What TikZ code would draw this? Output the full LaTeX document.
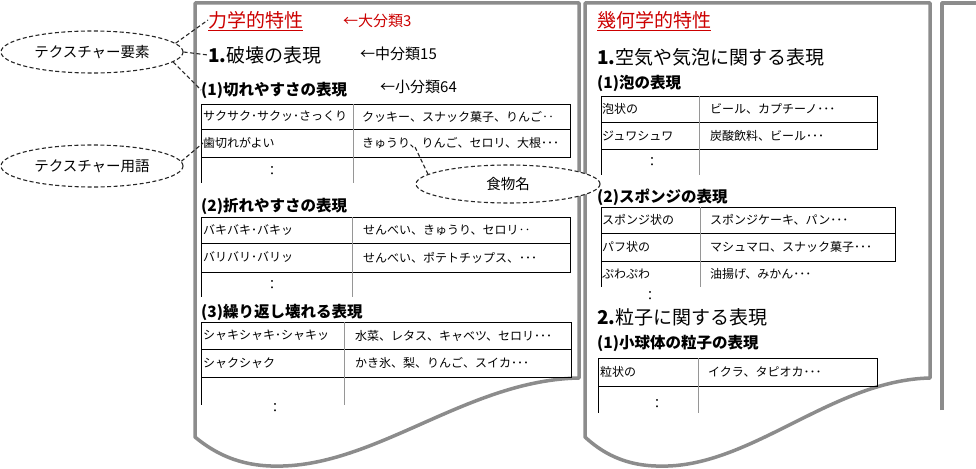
\documentclass[tikz,border=0pt]{standalone}
\usepackage{fontspec}
\setmainfont{Noto Sans CJK JP}
\usetikzlibrary{shapes.geometric}
\definecolor{pageborder}{RGB}{140,140,140}
\definecolor{headred}{RGB}{204,0,0}
\definecolor{divgray}{RGB}{150,150,150}
\tikzset{
  pagebox/.style={draw=pageborder, line width=3.5pt, line join=round},
  callout/.style={ellipse, draw=black!85, dash pattern=on 4pt off 2.5pt, line width=1.1pt, fill=white, inner sep=0pt, font=\fontsize{14.5}{15}\selectfont},
  linkline/.style={draw=black!85, line width=1.1pt, dash pattern=on 4pt off 2.5pt},
  bigred/.style={anchor=west, inner sep=0pt, text=headred, font=\fontsize{19}{19}\selectfont},
  redunder/.style={draw=headred, line width=1.2pt},
  midhead/.style={anchor=west, inner sep=0pt, font=\fontsize{19}{19}\selectfont},
  subhead/.style={anchor=west, inner sep=0pt, font=\fontsize{15.5}{16}\selectfont\bfseries},
  arrownote/.style={anchor=west, inner sep=0pt, font=\fontsize{15}{15}\selectfont},
  celltxt/.style={anchor=west, inner sep=0pt, font=\fontsize{12}{12}\selectfont},
  dotsmark/.style={inner sep=0pt, font=\fontsize{13}{13}\selectfont},
  tabline/.style={draw=black, line width=0.9pt},
  tabdiv/.style={draw=divgray, line width=0.9pt},
}
\begin{document}
\begin{tikzpicture}[x=1pt,y=-1pt]
\useasboundingbox (0,0) rectangle (976,468);
\clip (0,0) rectangle (976,468);
\fill[white] (0,0) rectangle (976,468);

% pages
\draw[pagebox] (195,437) -- (195,3) -- (579,3) -- (579,378) .. controls (470,380) and (380,463) .. (283,466) .. controls (255,467) and (225,462) .. cycle;
\draw[pagebox] (585,437) -- (585,3) -- (930,3) -- (930,378) .. controls (835,380) and (755,463) .. (668,466) .. controls (640,467) and (612,462) .. cycle;
\draw[pagebox] (942,410) -- (942,3) -- (990,3);

% ---------- left page ----------
\node[bigred] (h1L) at (208,20) {力学的特性};
\draw[redunder] ([yshift=-3.5pt]h1L.base west) -- ([yshift=-3.5pt]h1L.base east);
\node[arrownote, text=headred] (n1) at (343,21) {←大分類3};
\node[midhead] (hd1) at (208,55) {\textbf{1.}破壊の表現};
\node[arrownote] (n2) at (360,54) {←中分類15};
\node[subhead] (hd11) at (201,90) {(1)切れやすさの表現};
\node[arrownote] (n3) at (380,87) {←小分類64};

% table 1
\draw[tabline] (201,104) rectangle (570,157);
\draw[tabline] (201,129) -- (570,129);
\draw[tabline] (201,157) -- (201,183);
\draw[tabdiv] (353,104) -- (353,183);
\node[celltxt] (t1a) at (203,116.5) {サクサク･サクッ･さっくり};
\node[celltxt] (t1b) at (362,116.5) {クッキー、スナック菓子、りんご‥};
\node[celltxt] (t1c) at (203,143) {歯切れがよい};
\node[celltxt] (t1d) at (362,143) {きゅうり、りんご、セロリ、大根･･･};
\node[dotsmark] (t1e) at (272,171) {：};

\node[subhead] (hd12) at (201,206) {(2)折れやすさの表現};
% table 2
\draw[tabline] (201,217) rectangle (570,272);
\draw[tabline] (201,243) -- (570,243);
\draw[tabline] (201,272) -- (201,297);
\draw[tabdiv] (352,217) -- (352,297);
\node[celltxt] (t2a) at (203,230) {バキバキ･バキッ};
\node[celltxt] (t2b) at (363,230) {せんべい、きゅうり、セロリ‥};
\node[celltxt] (t2c) at (203,257.5) {バリバリ･バリッ};
\node[celltxt] (t2d) at (363,257.5) {せんべい、ポテトチップス、･･･};
\node[dotsmark] (t2e) at (272,285) {：};

\node[subhead] (hd13) at (201,312) {(3)繰り返し壊れる表現};
% table 3
\draw[tabline] (201,322) rectangle (571,377);
\draw[tabline] (201,349) -- (571,349);
\draw[tabline] (201,377) -- (201,405);
\draw[tabdiv] (344,322) -- (344,405);
\node[celltxt] (t3a) at (203,335.5) {シャキシャキ･シャキッ};
\node[celltxt] (t3b) at (355,335.5) {水菜、レタス、キャベツ、セロリ･･･};
\node[celltxt] (t3c) at (203,363) {シャクシャク};
\node[celltxt] (t3d) at (355,363) {かき氷、梨、りんご、スイカ･･･};
\node[dotsmark] (t3e) at (275,408) {：};

% ---------- right page ----------
\node[bigred] (h1R) at (597,20) {幾何学的特性};
\draw[redunder] ([yshift=-3.5pt]h1R.base west) -- ([yshift=-3.5pt]h1R.base east);
\node[midhead] (hd2) at (597,57) {\textbf{1.}空気や気泡に関する表現};
\node[subhead] (hd21) at (597,83) {(1)泡の表現};
% table A
\draw[tabline] (601,96) rectangle (877,149);
\draw[tabline] (601,122) -- (877,122);
\draw[tabline] (601,149) -- (601,175);
\draw[tabdiv] (699,96) -- (699,175);
\node[celltxt] (ta1) at (602,109) {泡状の};
\node[celltxt] (ta2) at (710,109) {ビール、カプチーノ･･･};
\node[celltxt] (ta3) at (602,135.5) {ジュワシュワ};
\node[celltxt] (ta4) at (710,135.5) {炭酸飲料、ビール･･･};
\node[dotsmark] (ta5) at (652,162) {：};

\node[subhead] (hd22) at (597,197) {(2)スポンジの表現};
% table B
\draw[tabline] (601,207) rectangle (895,261);
\draw[tabline] (601,233) -- (895,233);
\draw[tabline] (601,261) -- (601,287);
\draw[tabdiv] (700,207) -- (700,287);
\node[celltxt] (tb1) at (602,220) {スポンジ状の};
\node[celltxt] (tb2) at (710,220) {スポンジケーキ、パン･･･};
\node[celltxt] (tb3) at (602,247) {パフ状の};
\node[celltxt] (tb4) at (710,247) {マシュマロ、スナック菓子･･･};
\node[celltxt] (tb5) at (602,274) {ぷわぷわ};
\node[celltxt] (tb6) at (710,274) {油揚げ、みかん･･･};
\node[dotsmark] (tb7) at (650,296) {：};

\node[midhead] (hd3) at (597,317) {\textbf{2.}粒子に関する表現};
\node[subhead] (hd31) at (597,343) {(1)小球体の粒子の表現};
% table C
\draw[tabline] (598,358) rectangle (877,386);
\draw[tabline] (598,386) -- (598,413);
\draw[tabdiv] (698,358) -- (698,413);
\node[celltxt] (tc1) at (600,372) {粒状の};
\node[celltxt] (tc2) at (708,372) {イクラ、タピオカ･･･};
\node[dotsmark] (tc3) at (657,404) {：};

% ---------- callouts ----------
\node[callout, minimum width=182pt, minimum height=42pt] (e1) at (92,52) {テクスチャー要素};
\node[callout, minimum width=182pt, minimum height=42pt] (e2) at (92,166) {テクスチャー用語};
\node[callout, minimum width=184pt, minimum height=38pt] (e3) at (508,184) {食物名};
\coordinate (fp) at (415,147);

\draw[linkline] (e1.6) -- (h1L.west);
\draw[linkline] (e1.east) -- (hd1.west);
\draw[linkline] (e1.-7) -- (hd11.west);
\draw[linkline] (e2.3) -- (t1c.west);
\draw[linkline] (e3.173) -- (fp);
\end{tikzpicture}
\end{document}
